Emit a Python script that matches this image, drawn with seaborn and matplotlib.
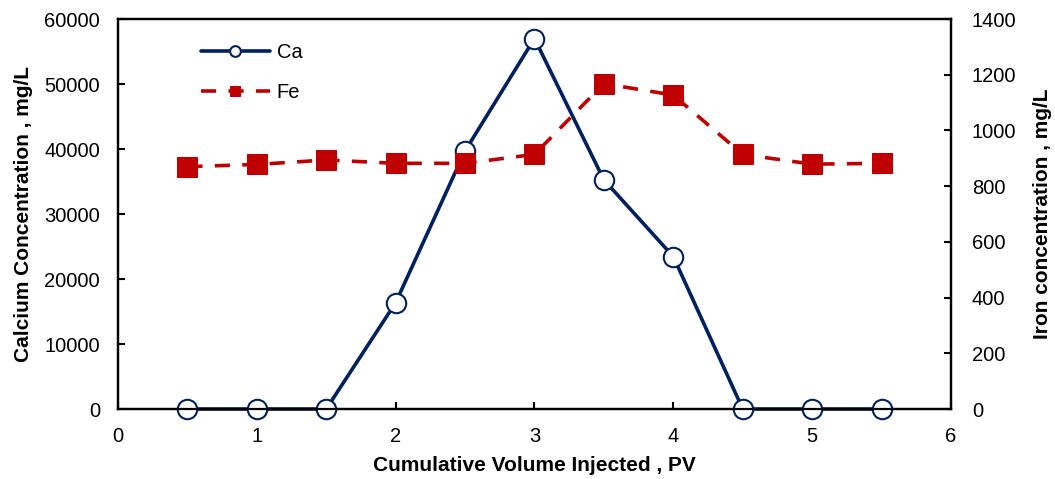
import matplotlib
matplotlib.use("Agg")
import matplotlib.pyplot as plt
import seaborn as sns
import pandas as pd

pv = [0.5, 1.0, 1.5, 2.0, 2.5, 3.0, 3.5, 4.0, 4.5, 5.0, 5.5]
calcium = [0, 0, 0, 16350, 39700, 57000, 35250, 23450, 0, 0, 0]
iron = [870, 878, 894, 882, 882, 914, 1168, 1127, 914, 879, 882]

x_ticks = [0, 1, 2, 3, 4, 5, 6]
ca_ticks = [0, 10000, 20000, 30000, 40000, 50000, 60000]
fe_ticks = [0, 200, 400, 600, 800, 1000, 1200, 1400]

df = pd.DataFrame({"pv": pv, "Ca": calcium, "Fe": iron})

sns.set_style("white")
plt.rcParams["font.family"] = ["Liberation Sans", "DejaVu Sans"]
plt.rcParams["text.color"] = "black"
plt.rcParams["axes.labelcolor"] = "black"

navy = "#002060"
red = "#C00000"

fig = plt.figure(figsize=(10.55, 4.79), dpi=100)
ax = fig.add_axes([0.1118, 0.1461, 0.7896, 0.8142])

sns.lineplot(data=df, x="pv", y="Ca", ax=ax, color=navy, linewidth=2.6,
             marker="o", markersize=14, markerfacecolor="white",
             markeredgecolor=navy, markeredgewidth=1.5, label="Ca",
             legend=False, clip_on=False, zorder=3)

ax2 = ax.twinx()
sns.lineplot(data=df, x="pv", y="Fe", ax=ax2, color=red, linewidth=2.6,
             linestyle=(0, (4.2, 3.4)), marker="s", markersize=14,
             markerfacecolor=red, markeredgecolor=red, label="Fe",
             legend=False, clip_on=False, zorder=3)

ax.set_xlim(0, 6)
ax.set_ylim(0, 60000)
ax2.set_ylim(0, 1400)
ax.set_xticks(x_ticks)
ax.set_yticks(ca_ticks)
ax2.set_yticks(fe_ticks)

for a in (ax, ax2):
    for s in a.spines.values():
        s.set_color("black")
        s.set_linewidth(1.6)

ax.tick_params(axis="x", direction="in", length=5, width=1.5, labelsize=14.5,
               pad=13, colors="black", bottom=True, top=False)
ax.tick_params(axis="y", direction="in", length=5, width=1.5, labelsize=14.5,
               pad=13, colors="black", left=True)
ax2.tick_params(axis="y", direction="in", length=5, width=1.5, labelsize=14.5,
                pad=15, colors="black", right=True)

ax.set_xlabel("Cumulative Volume Injected , PV", fontsize=15, fontweight="bold",
              labelpad=7)
ax.set_ylabel("Calcium Concentration , mg/L", fontsize=15, fontweight="bold",
              labelpad=8)
ax2.set_ylabel("Iron concentration , mg/L", fontsize=15, fontweight="bold",
               labelpad=12)

h1, l1 = ax.get_legend_handles_labels()
h2, l2 = ax2.get_legend_handles_labels()
ax2.legend(h1 + h2, l1 + l2, loc="upper left", bbox_to_anchor=(0.078, 0.985),
           frameon=False, fontsize=14.5, handlelength=3.4, labelspacing=1.05,
           handletextpad=0.35, markerscale=0.55)

fig.savefig("out.png", dpi=100)
